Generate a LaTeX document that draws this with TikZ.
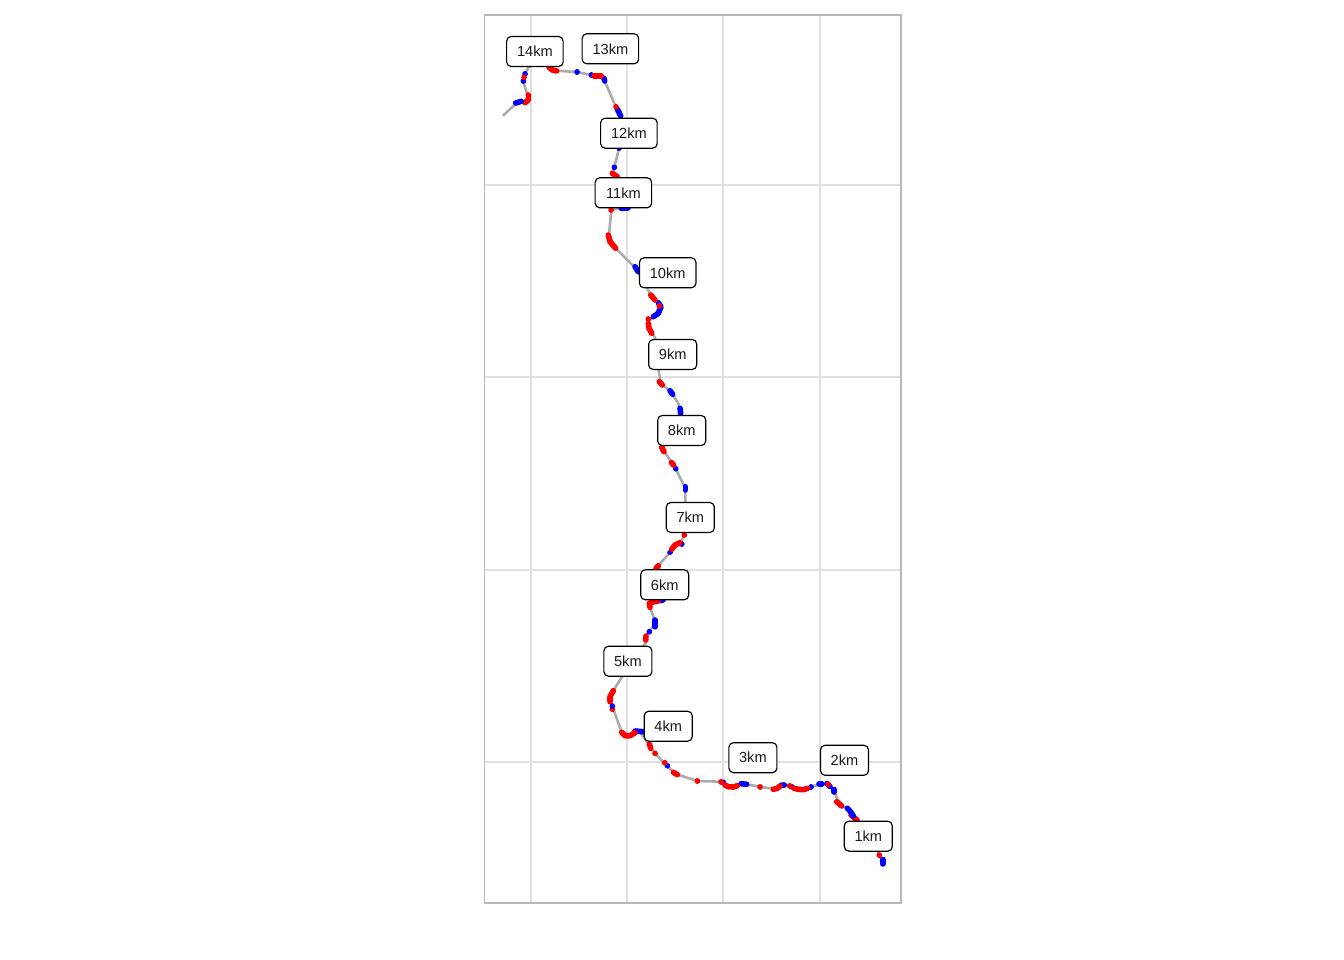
\documentclass[tikz,border=0pt]{standalone}
\usepackage{fontspec}
\setmainfont{Liberation Sans}
\tikzset{
  gridline/.style={draw=gridgray,line width=1.7pt},
  panel/.style={draw=panelgray,line width=1.7pt},
  track/.style={draw=trackgray,line width=2.6pt,line join=round,line cap=butt},
  rdot/.style={draw=red,line width=5.6pt,line cap=round,line join=round},
  bdot/.style={draw=blue,line width=5.6pt,line cap=round,line join=round},
  kmlabel/.style={draw=black,fill=white,rounded corners=4.5pt,line width=1.15pt,inner sep=0pt,
    font=\fontsize{14.6}{16}\selectfont,text=black!90,anchor=center},
}
\definecolor{gridgray}{HTML}{E0E0E0}
\definecolor{panelgray}{HTML}{B8B8B8}
\definecolor{trackgray}{HTML}{ABABAB}
\newcommand{\rdseg}[1]{\draw[rdot] #1;}
\newcommand{\blseg}[1]{\draw[bdot] #1;}
\newcommand{\kmbox}[7]{\node[kmlabel,minimum width=#5pt,minimum height=#6pt] (#1) at (#2,#3+0.5) {#4};}
\begin{document}
\begin{tikzpicture}[x=1pt,y=-1pt]
\useasboundingbox (0,0) rectangle (1344,960);
\fill[white] (0,0) rectangle (1344,960);
% grid
\foreach \gx in {531,627,723,820} \draw[gridline] (\gx,15) -- (\gx,903);
\foreach \gy in {185,377,570,762} \draw[gridline] (484,\gy) -- (901,\gy);
\draw[panel] (484.5,15) rectangle (901,903);
% track
\draw[track] (882.7,862) -- (879.3,855) -- (870,835) -- (855,818.3) -- (850.7,810.7) -- (839.3,804) -- (834,790.7) -- (828.3,784.3) -- (820.7,784) -- (811,786.7) -- (801.7,789.3) -- (795,788.3) -- (790,785.7) -- (782.7,785.3) -- (775,789) -- (760,786.7) -- (744,784) -- (733.3,786.7) -- (726,785.3) -- (721,781.7) -- (697.3,781) -- (675.7,774) -- (666.7,765.7) -- (655,753.3) -- (649.3,745) -- (639.3,731) -- (630,735.7) -- (621.7,732.3) -- (612.7,707.3) -- (610,698.3) -- (613.3,690.7) -- (621.7,677.3) -- (632,660) -- (645.7,643.3) -- (645.7,635.7) -- (649.3,631.7) -- (655,623.3) -- (654,618.3) -- (650,606.7) -- (651.7,602.3) -- (661.7,600) -- (665,585) -- (658.3,565.7) -- (670,552.3) -- (673.3,547.3) -- (680,542.7) -- (685,535) -- (685.3,500) -- (685.3,488.3) -- (675.7,468.7) -- (672.3,463.3) -- (662.7,449.3) -- (672,430) -- (680,411.7) -- (679,405) -- (671.7,392.3) -- (660.7,383.3) -- (658.3,368.3) -- (655,337.3) -- (650,330.7) -- (648.3,320) -- (655,316.7) -- (659.3,306.7) -- (657.3,301.7) -- (651,295) -- (646.7,287.3) -- (636.7,269.3) -- (615.7,248.3) -- (609,235) -- (611.3,210) -- (621,208) -- (628,205) -- (620,185) -- (612.3,173.3) -- (614.3,167.3) -- (619,148.3) -- (622,130) -- (620,115) -- (615.7,106.7) -- (604,79.3) -- (597.3,76) -- (591.3,75) -- (577,72) -- (555.7,70.7) -- (549,67.3) -- (540,62) -- (529,66.7) -- (524.7,74) -- (523.3,81) -- (528.3,98.3) -- (525.7,102.3) -- (517.3,102.3) -- (503,115.7);
% speed marks
\blseg{(882.7,859.5) -- (882.7,864)}
\rdseg{(879.3,855) -- (879.4,855.2)}
\rdseg{(851,815) -- (857,820)}
\blseg{(847.3,808.3) -- (850,811) -- (853.3,816)}
\rdseg{(836.7,801.7) -- (841.7,806)}
\blseg{(834,789.5) -- (834,792)}
\blseg{(827,783.5) -- (830,786.5)}
\rdseg{(828.3,784.3) -- (828.4,784.4)}
\blseg{(819,784) -- (822,784)}
\blseg{(811,787) -- (811.1,787)}
\blseg{(791.7,786.7) -- (791.8,786.8)}
\rdseg{(794,788.3) -- (798.3,789.3) -- (803.3,789.7) -- (807.7,788.3)}
\rdseg{(789.7,785.7) -- (789.8,785.7)}
\blseg{(781,785.3) -- (784.3,785)}
\rdseg{(773.3,789.3) -- (777.3,788.3) -- (780,786)}
\rdseg{(760,786.7) -- (760.1,786.7)}
\blseg{(741,783.7) -- (746.7,784.3)}
\blseg{(723.3,782.3) -- (723.4,782.4)}
\rdseg{(725,785) -- (728.3,786.7) -- (733.3,787) -- (737.3,785.7)}
\rdseg{(721,781.7) -- (721.1,781.7)}
\rdseg{(697.3,781) -- (697.4,781)}
\rdseg{(673.3,772.3) -- (677.3,774.7)}
\blseg{(667.3,765.7) -- (667.4,765.8)}
\rdseg{(664.7,762.7) -- (664.8,762.8)}
\rdseg{(655,753.3) -- (655.1,753.4)}
\rdseg{(649.3,744) -- (650.7,748.3)}
\blseg{(635,731) -- (643.3,731.7)}
\rdseg{(621.7,732.3) -- (625,735.7) -- (630,735.7) -- (635,732.7)}
\rdseg{(612.3,709.3) -- (612.4,709.4)}
\blseg{(612.3,706) -- (612.4,706.1)}
\rdseg{(610,701.7) -- (610,696.7) -- (613.3,690.7)}
\rdseg{(645.7,640) -- (646,636)}
\blseg{(649.3,631.7) -- (649.4,631.8)}
\blseg{(655,620) -- (655,626.7)}
\blseg{(660,600.7) -- (663,600)}
\rdseg{(650,607.3) -- (649.3,603.3) -- (654,601.7) -- (658,601)}
\rdseg{(658.3,565.7) -- (656,568.3)}
\blseg{(670,552.3) -- (670.1,552.3)}
\blseg{(681.7,544) -- (681.8,544)}
\rdseg{(671.7,549.3) -- (675,545) -- (680,542.7)}
\rdseg{(684.3,535) -- (684.4,535.1)}
\blseg{(685.3,486.7) -- (685.3,490)}
\blseg{(675.7,468.7) -- (675.8,468.8)}
\rdseg{(671.5,462.5) -- (673.5,465)}
\rdseg{(661.7,447.3) -- (664,451.7)}
\blseg{(680,408.3) -- (680.7,413.3)}
\blseg{(670,390.7) -- (672.7,394.3)}
\rdseg{(659.3,381.7) -- (662.3,385)}
\rdseg{(648.3,323.3) -- (649,328.3) -- (651.7,333.3)}
\rdseg{(648.3,319) -- (648.4,319)}
\blseg{(653.3,316.7) -- (658.3,313.3) -- (661,306.7) -- (658.3,302.7)}
\rdseg{(659.3,306) -- (659.4,306)}
\rdseg{(650.7,295) -- (655,300)}
\blseg{(635,266.7) -- (638.3,271.7)}
\rdseg{(608.3,235) -- (610,241.7) -- (615.7,248.3)}
\rdseg{(611,210) -- (611.1,210.1)}
\blseg{(621.3,208.3) -- (628,208)}
\rdseg{(612.3,173.3) -- (617.3,176.7)}
\blseg{(614.3,167.3) -- (614.4,167.4)}
\blseg{(619,148.3) -- (619.1,148.3)}
\blseg{(617.3,109) -- (620.7,116)}
\rdseg{(616,106.7) -- (616.1,106.8)}
\blseg{(604,78.3) -- (604.7,81)}
\blseg{(591.3,75) -- (591.4,75)}
\rdseg{(594,76) -- (601.3,76)}
\blseg{(577,72) -- (577.1,72)}
\rdseg{(549,67.3) -- (552.3,70) -- (556.7,71)}
\blseg{(525,74) -- (525.1,74)}
\blseg{(523.3,81) -- (523.4,81)}
\rdseg{(524,77.3) -- (524.1,77.4)}
\rdseg{(528.3,95) -- (528.3,100) -- (525,102.7)}
\blseg{(515.7,103) -- (521.3,101.3)}
% labels
\kmbox{k14}{534.9}{51}{14km}{56.5}{30}{}
\kmbox{k13}{610.4}{48.3}{13km}{56.5}{30}{}
\kmbox{k12}{628.9}{132.7}{12km}{56.5}{30}{}
\kmbox{k11}{623.4}{192.3}{11km}{56.5}{30}{}
\kmbox{k10}{667.7}{272.3}{10km}{56.5}{30}{}
\kmbox{k9}{672.7}{354}{9km}{48}{30}{}
\kmbox{k8}{681.7}{430}{8km}{48}{30}{}
\kmbox{k7}{690.3}{517}{7km}{48}{30}{}
\kmbox{k6}{664.7}{584.3}{6km}{48}{30}{}
\kmbox{k5}{627.9}{660.7}{5km}{48}{30}{}
\kmbox{k4}{668.2}{725.7}{4km}{48}{30}{}
\kmbox{k3}{752.9}{757.2}{3km}{48}{30}{}
\kmbox{k2}{844.5}{759.8}{2km}{48}{30}{}
\kmbox{k1}{868.3}{835.7}{1km}{48}{30}{}
\end{tikzpicture}
\end{document}
